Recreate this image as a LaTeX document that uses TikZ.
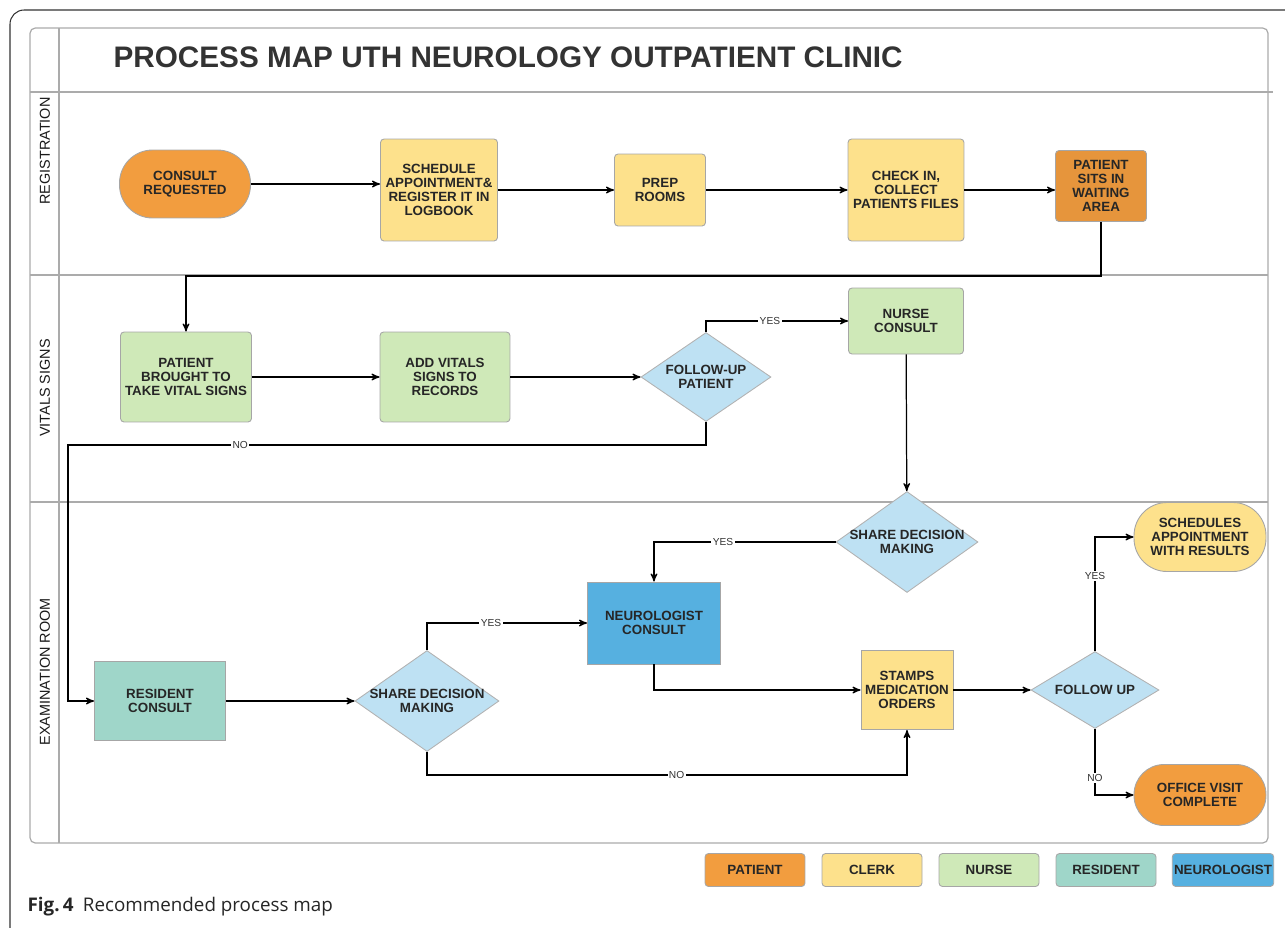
\documentclass[tikz,border=0pt]{standalone}
\usepackage{fontspec}
\setmainfont{Liberation Sans}
\newfontfamily\capfont{Open Sans}
\usepackage{tikz}
\usetikzlibrary{arrows}
\usetikzlibrary{positioning}
\usetikzlibrary{shapes.geometric}

\definecolor{patientc}{HTML}{F29D3F}
\definecolor{clerkc}{HTML}{FDE18C}
\definecolor{nursec}{HTML}{CFE9B8}
\definecolor{residentc}{HTML}{9FD6C9}
\definecolor{neuroc}{HTML}{56B0E0}
\definecolor{decisionc}{HTML}{BEE1F3}
\definecolor{lanec}{HTML}{ABABAB}

\newcommand\boxfont{\fontsize{7.6}{8}\selectfont\bfseries}

\begin{document}
\begin{tikzpicture}[->,>=stealth',x=0.02cm,y=-0.02cm,
                    line width=0.7pt,
                    task node/.style={rectangle,draw=black!35,line width=0.5pt,rounded corners=2pt,
                                      align=center,font=\boxfont,text=black!85,inner sep=1pt},
                    start node/.style={task node,rounded corners=0.6cm},
                    decision node/.style={diamond,draw=black!30,line width=0.5pt,fill=decisionc,
                                          align=center,font=\boxfont,text=black!85,inner sep=0pt,
                                          inner xsep=-3pt},
                    legend node/.style={task node,minimum width=2cm,minimum height=0.66cm},
                    lane label/.style={rotate=90,font=\fontsize{8.2}{9}\selectfont,text=black!90},
                    edge label/.style={font=\fontsize{5.8}{6}\selectfont,fill=white,inner sep=0.8pt,text=black!80},
                    lane/.style={-,draw=lanec,line width=0.7pt}]

  \useasboundingbox (0,0) rectangle (1285,927);

  % frame and swim lanes
  \draw[-,black!80,line width=0.6pt,rounded corners=8pt] (10,930) -- (10,10) -- (1285,10);
  \draw[lane,rounded corners=3pt] (30,28) rectangle (1268,843);
  \draw[lane] (59,28) -- (59,843);
  \draw[lane] (30,92) -- (1273,92);
  \draw[lane] (30,275) -- (1268,275);
  \draw[lane] (30,502) -- (1268,502);

  \node[anchor=west,inner sep=0pt,font=\fontsize{16.9}{18}\selectfont\bfseries,text=black!80] (title) at (113,57)
    {PROCESS MAP UTH NEUROLOGY OUTPATIENT CLINIC};
  \node[lane label] (regl) at (45,151) {REGISTRATION};
  \node[lane label] (vitl) at (45,388) {VITALS SIGNS};
  \node[lane label] (exal) at (45,672) {EXAMINATION ROOM};

  % registration
  \node[start node,fill=patientc,minimum width=2.62cm,minimum height=1.36cm,rounded corners=0.66cm] (consult) at (185,184) {CONSULT\\REQUESTED};
  \node[task node,fill=clerkc,minimum width=2.34cm,minimum height=2.04cm] (sched) at (439,190) {SCHEDULE\\APPOINTMENT\&\\REGISTER IT IN\\LOGBOOK};
  \node[task node,fill=clerkc,minimum width=1.82cm,minimum height=1.44cm] (prep) at (660,190) {PREP\\ROOMS};
  \node[task node,fill=clerkc,minimum width=2.32cm,minimum height=2.04cm] (check) at (906,190) {CHECK IN,\\COLLECT\\PATIENTS FILES};
  \node[task node,fill=patientc!95!black,minimum width=1.82cm,minimum height=1.42cm] (wait) at (1101,186) {PATIENT\\SITS IN\\WAITING\\AREA};

  % vital signs
  \node[task node,fill=nursec,minimum width=2.62cm,minimum height=1.8cm] (brought) at (186,377) {PATIENT\\BROUGHT TO\\TAKE VITAL SIGNS};
  \node[task node,fill=nursec,minimum width=2.6cm,minimum height=1.8cm] (addvit) at (445,377) {ADD VITALS\\SIGNS TO\\RECORDS};
  \node[decision node,aspect=1.46,minimum width=2.6cm,minimum height=1.78cm] (fup) at (706,377) {FOLLOW-UP\\PATIENT};
  \node[task node,fill=nursec,minimum width=2.3cm,minimum height=1.32cm] (nurse) at (906,321) {NURSE\\CONSULT};

  % examination room
  \node[decision node,aspect=1.41,minimum width=2.84cm,minimum height=2.02cm] (shareA) at (907,542) {SHARE DECISION\\MAKING};
  \node[task node,fill=neuroc,rounded corners=0pt,minimum width=2.66cm,minimum height=1.64cm] (neuro) at (654,623) {NEUROLOGIST\\CONSULT};
  \node[task node,fill=clerkc,rounded corners=0pt,minimum width=1.84cm,minimum height=1.58cm] (stamps) at (907,690) {STAMPS\\MEDICATION\\ORDERS};
  \node[task node,fill=residentc,rounded corners=0pt,minimum width=2.62cm,minimum height=1.58cm] (resid) at (160,701) {RESIDENT\\CONSULT};
  \node[decision node,aspect=1.43,minimum width=2.88cm,minimum height=2.02cm] (shareB) at (427,701) {SHARE DECISION\\MAKING};
  \node[decision node,aspect=1.66,minimum width=2.56cm,minimum height=1.54cm] (fu) at (1095,690) {FOLLOW UP};
  \node[start node,fill=clerkc,minimum width=2.64cm,minimum height=1.38cm,rounded corners=0.66cm] (sched2) at (1200,537) {SCHEDULES\\APPOINTMENT\\WITH RESULTS};
  \node[start node,fill=patientc,minimum width=2.64cm,minimum height=1.22cm,rounded corners=0.6cm] (office) at (1200,795) {OFFICE VISIT\\COMPLETE};

  \coordinate (noturn) at (68,445);

  % flow
  \draw (consult.east) -- (consult.east -| sched.west);
  \draw (sched) -- (prep);
  \draw (prep) -- (check);
  \draw (check.east) -- (check.east -| wait.west);
  \draw (wait.south) -- ++(0,54) -| (brought.north);
  \draw (brought) -- (addvit);
  \draw (addvit) -- (fup);
  \draw (fup.north) |- node[edge label,pos=0.725] {YES} (nurse.west);
  \draw (fup.south) |- node[edge label,pos=0.865] {NO} (noturn) |- (resid.west);
  \draw (nurse) -- (shareA);
  \draw (shareA.west) -| node[edge label,pos=0.31] {YES} (neuro.north);
  \draw (resid) -- (shareB);
  \draw (shareB.north) |- node[edge label,pos=0.7] {YES} (neuro.west);
  \draw (neuro.south) |- (stamps.west);
  \draw (shareB.south) -- ++(0,23) -| node[edge label,pos=0.26] {NO} (stamps.south);
  \draw (stamps) -- (fu);
  \draw (fu.north) |- node[edge label,pos=0.33] {YES} (sched2.west);
  \draw (fu.south) |- node[edge label,pos=0.37] {NO} (office.west);

  % legend
  \node[legend node,fill=patientc] (legpat) at (755,870) {PATIENT};
  \node[legend node,fill=clerkc] (legcle) at (872,870) {CLERK};
  \node[legend node,fill=nursec] (legnur) at (989,870) {NURSE};
  \node[legend node,fill=residentc] (legres) at (1106,870) {RESIDENT};
  \node[legend node,fill=neuroc] (legneu) at (1223,870) {NEUROLOGIST};

  \node[anchor=west,inner sep=0pt,font=\capfont\fontsize{10.7}{12}\selectfont,text=black!85] (caption) at (27,907)
    {\textbf{Fig.\,4}\enspace Recommended process map};
\end{tikzpicture}
\end{document}
